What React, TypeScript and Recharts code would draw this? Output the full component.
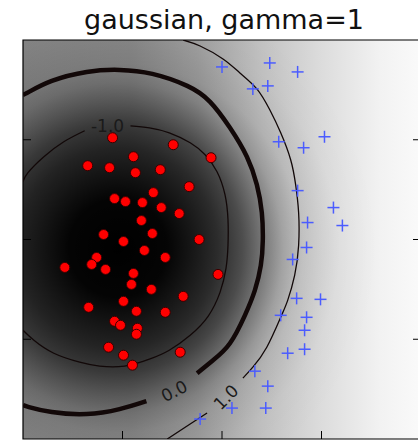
import React from 'react';
import {
  ComposedChart,
  CartesianGrid,
  Line,
  Scatter,
  XAxis,
  YAxis,
  ReferenceArea,
  ReferenceDot,
} from 'recharts';

const title = 'gaussian, gamma=1';
const ticks = [1, 2, 3];

// class -1 samples (red dots)
const redPoints = [
  { x: 0.9, y: 3.02 }, { x: 1.51, y: 2.95 }, { x: 1.89, y: 2.82 }, { x: 1.11, y: 2.83 },
  { x: 0.65, y: 2.74 }, { x: 0.87, y: 2.72 }, { x: 1.13, y: 2.67 }, { x: 1.38, y: 2.7 },
  { x: 1.67, y: 2.53 }, { x: 1.31, y: 2.47 }, { x: 0.92, y: 2.41 }, { x: 1.03, y: 2.38 },
  { x: 1.2, y: 2.37 }, { x: 1.39, y: 2.32 }, { x: 1.57, y: 2.26 }, { x: 1.19, y: 2.19 },
  { x: 0.81, y: 2.05 }, { x: 1.3, y: 2.06 }, { x: 1.01, y: 1.98 }, { x: 1.77, y: 2.0 },
  { x: 1.22, y: 1.89 }, { x: 0.74, y: 1.82 }, { x: 1.43, y: 1.82 }, { x: 0.42, y: 1.72 },
  { x: 0.69, y: 1.75 }, { x: 0.83, y: 1.7 }, { x: 1.11, y: 1.66 }, { x: 1.96, y: 1.65 },
  { x: 1.09, y: 1.55 }, { x: 1.29, y: 1.5 }, { x: 1.61, y: 1.43 }, { x: 1.01, y: 1.38 },
  { x: 0.66, y: 1.32 }, { x: 1.14, y: 1.28 }, { x: 1.43, y: 1.27 }, { x: 0.92, y: 1.18 },
  { x: 0.98, y: 1.14 }, { x: 1.15, y: 1.11 }, { x: 1.14, y: 1.05 }, { x: 0.86, y: 0.92 },
  { x: 1.01, y: 0.84 }, { x: 1.58, y: 0.87 }, { x: 1.1, y: 0.74 },
];

// class +1 samples (blue crosses)
const bluePoints = [
  { x: 2.0, y: 3.73 }, { x: 2.48, y: 3.77 }, { x: 2.76, y: 3.68 }, { x: 2.31, y: 3.51 },
  { x: 2.46, y: 3.54 }, { x: 2.57, y: 2.98 }, { x: 2.82, y: 2.92 }, { x: 3.03, y: 3.03 },
  { x: 2.76, y: 2.49 }, { x: 3.12, y: 2.32 }, { x: 2.86, y: 2.17 }, { x: 3.21, y: 2.14 },
  { x: 2.85, y: 1.92 }, { x: 2.71, y: 1.8 }, { x: 2.75, y: 1.41 }, { x: 2.99, y: 1.4 },
  { x: 2.59, y: 1.24 }, { x: 2.85, y: 1.22 }, { x: 2.83, y: 1.09 }, { x: 2.83, y: 0.9 },
  { x: 2.66, y: 0.86 }, { x: 2.33, y: 0.68 }, { x: 2.46, y: 0.53 }, { x: 2.1, y: 0.31 },
  { x: 2.44, y: 0.31 }, { x: 1.78, y: 0.2 },
];

// decision function level lines, split where the inline labels sit
const levelMinus1A = [
  { x: 0, y: 2.58 }, { x: 0.05, y: 2.67 }, { x: 0.21, y: 2.83 }, { x: 0.41, y: 2.98 },
  { x: 0.62, y: 3.09 },
];
const levelMinus1B = [
  { x: 1.08, y: 3.14 }, { x: 1.27, y: 3.12 }, { x: 1.47, y: 3.07 }, { x: 1.68, y: 2.97 },
  { x: 1.83, y: 2.85 }, { x: 1.95, y: 2.68 }, { x: 2.03, y: 2.45 }, { x: 2.06, y: 2.2 },
  { x: 2.06, y: 1.94 }, { x: 2.04, y: 1.71 }, { x: 1.98, y: 1.47 }, { x: 1.86, y: 1.23 },
  { x: 1.68, y: 1.04 }, { x: 1.47, y: 0.89 }, { x: 1.27, y: 0.8 }, { x: 1.02, y: 0.73 },
  { x: 0.77, y: 0.73 }, { x: 0.57, y: 0.77 }, { x: 0.31, y: 0.86 }, { x: 0.11, y: 0.99 },
  { x: 0, y: 1.09 },
];
const levelZeroA = [
  { x: 0, y: 3.45 }, { x: 0.06, y: 3.48 }, { x: 0.29, y: 3.59 }, { x: 0.64, y: 3.68 },
  { x: 0.97, y: 3.7 }, { x: 1.3, y: 3.66 }, { x: 1.65, y: 3.54 }, { x: 1.88, y: 3.38 },
  { x: 2.08, y: 3.12 }, { x: 2.25, y: 2.83 }, { x: 2.35, y: 2.55 }, { x: 2.4, y: 2.27 },
  { x: 2.41, y: 1.99 }, { x: 2.39, y: 1.74 }, { x: 2.33, y: 1.49 }, { x: 2.23, y: 1.24 },
  { x: 2.08, y: 0.96 }, { x: 1.91, y: 0.79 }, { x: 1.75, y: 0.66 },
];
const levelZeroB = [
  { x: 1.24, y: 0.38 }, { x: 0.97, y: 0.3 }, { x: 0.64, y: 0.25 }, { x: 0.29, y: 0.27 },
  { x: 0.06, y: 0.32 }, { x: 0, y: 0.34 },
];
const levelPlus1A = [
  { x: 1.61, y: 4.0 }, { x: 1.78, y: 3.94 }, { x: 2.01, y: 3.81 }, { x: 2.18, y: 3.67 },
  { x: 2.35, y: 3.51 }, { x: 2.48, y: 3.3 }, { x: 2.59, y: 3.07 }, { x: 2.69, y: 2.8 },
  { x: 2.74, y: 2.55 }, { x: 2.77, y: 2.27 }, { x: 2.77, y: 1.94 }, { x: 2.73, y: 1.64 },
  { x: 2.66, y: 1.39 }, { x: 2.59, y: 1.22 }, { x: 2.45, y: 0.92 }, { x: 2.31, y: 0.72 },
  { x: 2.21, y: 0.61 },
];
const levelPlus1B = [
  { x: 1.85, y: 0.26 }, { x: 1.68, y: 0.15 }, { x: 1.45, y: 0.0 },
];

const levelLabels = [
  { x: 0.85, y: 3.14, text: '-1.0' },
  { x: 1.52, y: 0.48, text: '0.0' },
  { x: 2.04, y: 0.42, text: '1.0' },
];
const labelAngle: Record<string, number> = { '-1.0': 0, '0.0': -27, '1.0': -45 };

const RedDot = (props: any) => (
  <circle cx={props.cx} cy={props.cy} r={5} fill="#ff0000" stroke="#3a0000" strokeWidth={1} />
);

const BlueCross = (props: any) => {
  const { cx, cy } = props;
  return (
    <g stroke="#4b5cff" strokeWidth={1.5}>
      <line x1={cx - 6} y1={cy} x2={cx + 6} y2={cy} />
      <line x1={cx} y1={cy - 6} x2={cx} y2={cy + 6} />
    </g>
  );
};

const font = '"DejaVu Sans", sans-serif';

const axisCommon = {
  type: 'number' as const,
  ticks,
  tickFormatter: () => '',
  mirror: true,
  tickSize: 8,
  tickLine: { stroke: '#000', strokeWidth: 1 },
  axisLine: false,
  stroke: '#000',
  allowDataOverflow: true,
};

const contour = (data: any[], width: number, key: string) => (
  <Line
    key={key}
    data={data}
    dataKey="y"
    type="natural"
    stroke="#120808"
    strokeWidth={width}
    dot={false}
    activeDot={false}
    isAnimationActive={false}
  />
);

export default function App() {
  return (
    <div
      style={{
        position: 'absolute',
        left: 0,
        top: 0,
        width: 418,
        height: 440,
        overflow: 'hidden',
        background: '#fff',
      }}
    >
      <div
        style={{
          position: 'absolute',
          left: 0,
          top: 6,
          width: 448,
          textAlign: 'center',
          fontFamily: font,
          fontSize: 27,
          lineHeight: '27px',
          color: '#111',
        }}
      >
        {title}
      </div>
      <ComposedChart
        width={430}
        height={450}
        margin={{ top: 40, right: 9, bottom: 11, left: 23 }}
        style={{ position: 'absolute', left: 0, top: 0 }}
      >
        <defs>
          <linearGradient id="bgBase" gradientUnits="userSpaceOnUse" x1={24} y1={0} x2={420} y2={0}>
            <stop offset="0" stopColor="#848484" />
            <stop offset="0.27" stopColor="#8a8a8a" />
            <stop offset="0.44" stopColor="#a0a0a0" />
            <stop offset="0.6" stopColor="#c2c2c2" />
            <stop offset="0.75" stopColor="#dcdcdc" />
            <stop offset="0.9" stopColor="#f2f2f2" />
            <stop offset="1" stopColor="#fafafa" />
          </linearGradient>
          <radialGradient id="bgShade" gradientUnits="userSpaceOnUse" cx={118} cy={248} r={260}>
            <stop offset="0" stopColor="#000" stopOpacity={1} />
            <stop offset="0.19" stopColor="#000" stopOpacity={0.97} />
            <stop offset="0.385" stopColor="#000" stopOpacity={0.74} />
            <stop offset="0.48" stopColor="#000" stopOpacity={0.58} />
            <stop offset="0.56" stopColor="#000" stopOpacity={0.38} />
            <stop offset="0.635" stopColor="#000" stopOpacity={0.2} />
            <stop offset="0.71" stopColor="#000" stopOpacity={0.09} />
            <stop offset="0.85" stopColor="#000" stopOpacity={0.02} />
            <stop offset="1" stopColor="#000" stopOpacity={0} />
          </radialGradient>
          <pattern id="bgField" patternUnits="userSpaceOnUse" x={0} y={0} width={430} height={450}>
            <rect x={0} y={0} width={430} height={450} fill="url(#bgBase)" />
            <rect x={0} y={0} width={430} height={450} fill="url(#bgShade)" />
          </pattern>
        </defs>
        <CartesianGrid horizontal={false} vertical={false} fill="url(#bgField)" fillOpacity={1} />
        <XAxis dataKey="x" domain={[0, 4]} height={1} {...axisCommon} />
        <XAxis xAxisId="top" orientation="top" domain={[0, 4]} height={1} {...axisCommon} />
        <YAxis dataKey="y" domain={[0, 4]} width={1} {...axisCommon} />
        <YAxis yAxisId="right" orientation="right" domain={[0, 4]} width={1} {...axisCommon} />

        {contour(levelMinus1A, 1.3, 'm1a')}
        {contour(levelMinus1B, 1.3, 'm1b')}
        {contour(levelZeroA, 4.5, 'z0a')}
        {contour(levelZeroB, 4.5, 'z0b')}
        {contour(levelPlus1A, 1.3, 'p1a')}
        {contour(levelPlus1B, 1.3, 'p1b')}

        {levelLabels.map((l) => (
          <ReferenceDot
            key={l.text}
            x={l.x}
            y={l.y}
            r={0}
            shape={(p: any) => (
              <text
                x={p.cx}
                y={p.cy}
                textAnchor="middle"
                dominantBaseline="central"
                fontFamily={font}
                fontSize={17}
                fill="#1a1a1a"
                transform={`rotate(${labelAngle[l.text]} ${p.cx} ${p.cy})`}
              >
                {l.text}
              </text>
            )}
          />
        ))}

        <Scatter data={redPoints} shape={RedDot} isAnimationActive={false} />
        <Scatter data={bluePoints} shape={BlueCross} isAnimationActive={false} />

        <ReferenceArea x1={0} x2={4} y1={0} y2={4} fill="none" stroke="#000" strokeWidth={1.2} />
      </ComposedChart>
    </div>
  );
}
